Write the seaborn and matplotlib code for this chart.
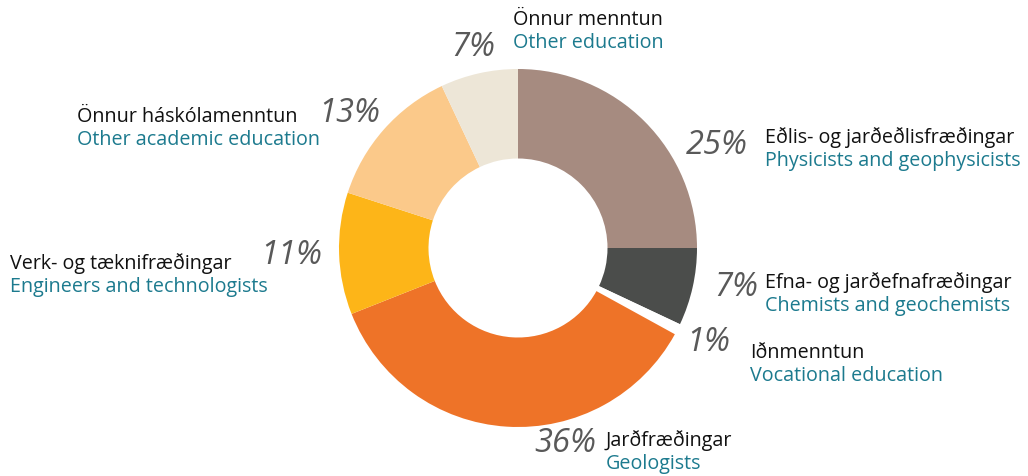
import matplotlib
matplotlib.use('Agg')
import matplotlib.pyplot as plt
import seaborn as sns

# Data (clockwise from 12 o'clock)
shares = [25, 7, 1, 36, 11, 13, 7]
labels_is = ['Eðlis- og jarðeðlisfræðingar', 'Efna- og jarðefnafræðingar', 'Iðnmenntun',
             'Jarðfræðingar', 'Verk- og tæknifræðingar', 'Önnur háskólamenntun', 'Önnur menntun']
labels_en = ['Physicists and geophysicists', 'Chemists and geochemists', 'Vocational education',
             'Geologists', 'Engineers and technologists', 'Other academic education', 'Other education']
colors = ['#A68B80', '#4B4D4B', '#FFFFFF', '#EE7328', '#FDB518', '#FBC98A', '#EDE6D7']

sns.set_theme(style='white')
plt.rcParams['font.family'] = ['Open Sans', 'DejaVu Sans']

W, H = 1028, 477
cx, cy, R = 518, 249, 179

fig = plt.figure(figsize=(W / 100, H / 100), dpi=100)
ax = fig.add_axes([0, 0, 1, 1])
ax.pie(shares, colors=colors, startangle=90, counterclock=False, radius=1,
       wedgeprops=dict(width=0.5, edgecolor='none'))
ax.set_xlim(-cx / R, (W - cx) / R)
ax.set_ylim(-(H - cy) / R, cy / R)
ax.set_aspect('auto')
ax.axis('off')

# label layout in pixels: (pct right x, pct y, name x, name y)
layout = [
    (748, 145, 765, 138),
    (758, 287, 765, 283),
    (730, 343, 750, 353),
    (596, 444, 606, 441),
    (322, 255, 10, 264),
    (380, 113, 77, 117),
    (495, 47, 513, 20),
]


def fx(x):
    return x / W


def fy(y):
    return 1 - y / H


for share, name_is, name_en, (px, py, lx, ly) in zip(shares, labels_is, labels_en, layout):
    fig.text(fx(px), fy(py), f'{share}%', ha='right', va='center', fontsize=23.5,
             style='italic', color='#595959')
    fig.text(fx(lx), fy(ly), name_is, ha='left', va='center', fontsize=14.2, color='#111111')
    fig.text(fx(lx), fy(ly + 23), name_en, ha='left', va='center', fontsize=14.2, color='#1C7A8E')

fig.savefig('out.png', dpi=100, facecolor='white')
